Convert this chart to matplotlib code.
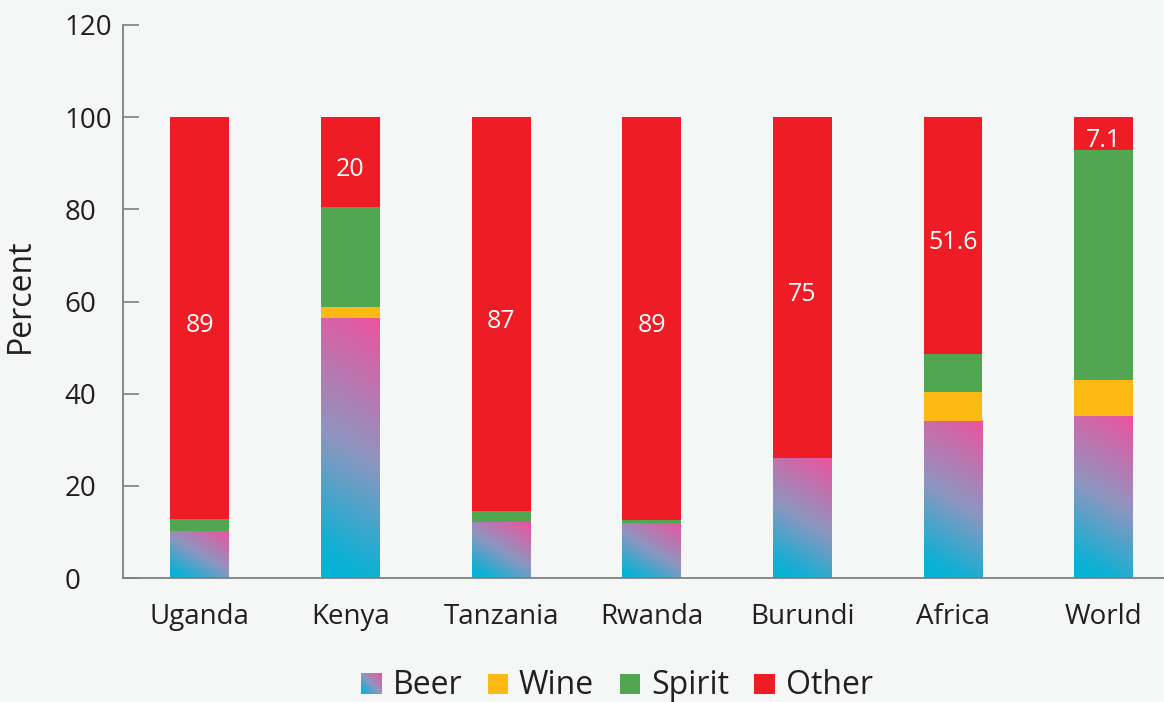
import numpy as np
import matplotlib
matplotlib.use("Agg")
import matplotlib.pyplot as plt
from matplotlib.colors import LinearSegmentedColormap
from matplotlib.patches import Rectangle
from matplotlib.legend_handler import HandlerBase

# data
countries = ["Uganda", "Kenya", "Tanzania", "Rwanda", "Burundi", "Africa", "World"]
beer = [10.2, 56.4, 12.1, 12.0, 26.0, 34.1, 35.1]
wine = [0.0, 2.4, 0.0, 0.0, 0.0, 6.3, 7.9]
spirit = [2.6, 21.7, 2.4, 0.5, 0.0, 8.2, 49.8]
other = [87.2, 19.5, 85.5, 87.5, 74.0, 51.4, 7.2]
other_labels = ["89", "20", "87", "89", "75", "51.6", "7.1"]

bg = "#f5f7f6"
txt = "#231f20"
c_wine = "#fdb913"
c_spirit = "#50a651"
c_other = "#ee1c25"
beer_cmap = LinearSegmentedColormap.from_list(
    "beer", [(0, "#00b5d6"), (0.12, "#10b0d3"), (0.5, "#8d96c0"), (1, "#ec539e")])

plt.rcParams['font.family'] = ['Open Sans', 'DejaVu Sans']

fig = plt.figure(figsize=(11.64, 7.02), dpi=100, facecolor=bg)
ax = fig.add_axes([0.1057, 0.1766, 0.8943, 0.7878])
ax.set_facecolor(bg)

x = np.arange(len(countries))
w = 0.39
ax.set_xlim(-0.51, 6.4)
ax.set_ylim(0, 120)

# px per data unit, to slant the beer gradient the same way on every bar
px_x = 0.8943 * 1164 / 6.91
px_y = 0.7878 * 702 / 120


def grad_bar(xc, h):
    if h <= 0:
        return
    n = 200
    xx, yy = np.meshgrid(np.linspace(0, w * px_x, n), np.linspace(0, h * px_y, n))
    k = 0.6
    t = (yy + k * xx) / (h * px_y + k * w * px_x)
    ax.imshow(t, cmap=beer_cmap, vmin=0, vmax=1, origin="lower", aspect="auto",
              extent=(xc - w / 2, xc + w / 2, 0, h), interpolation="bilinear", zorder=2)


for i in range(len(countries)):
    grad_bar(x[i], beer[i])

b1 = np.array(beer)
b2 = b1 + np.array(wine)
b3 = b2 + np.array(spirit)
ax.bar(x, wine, w, bottom=b1, color=c_wine, zorder=2)
ax.bar(x, spirit, w, bottom=b2, color=c_spirit, zorder=2)
ax.bar(x, other, w, bottom=b3, color=c_other, zorder=2)
ax.set_xlim(-0.51, 6.4)
ax.set_ylim(0, 120)

for i in range(len(countries)):
    ax.text(x[i], b3[i] + other[i] / 2 - 1.5, other_labels[i], color="white",
            ha="center", va="center", fontsize=18, zorder=3)

for s in ["top", "right"]:
    ax.spines[s].set_visible(False)
for s in ["left", "bottom"]:
    ax.spines[s].set_color("#808080")
    ax.spines[s].set_linewidth(1.3)

ax.set_yticks(np.arange(0, 121, 20))
ax.tick_params(axis="y", direction="in", length=11.5, width=1.2, color="#808080",
               labelsize=20, labelcolor=txt, pad=42)
for lab in ax.get_yticklabels():
    lab.set_horizontalalignment("left")
ax.set_xticks(x)
ax.set_xticklabels(countries)
ax.tick_params(axis="x", length=0, labelsize=20, labelcolor=txt, pad=18)
ax.set_ylabel("Percent", fontsize=23, color=txt)
ax.yaxis.set_label_coords(-0.083, 0.51)


class GradHandler(HandlerBase):
    def create_artists(self, legend, orig, xd, yd, width, height, fontsize, trans):
        arts = []
        n = 12
        s = height
        for i in range(n):
            for j in range(n):
                t = (i + j + 1) / (2 * n)
                r = Rectangle((xd + i * s / n, yd + j * s / n), s / n * 1.05, s / n * 1.05,
                              facecolor=beer_cmap(t), edgecolor="none", transform=trans)
                arts.append(r)
        return arts


class SquareHandler(HandlerBase):
    def create_artists(self, legend, orig, xd, yd, width, height, fontsize, trans):
        r = Rectangle((xd, yd), height, height, facecolor=orig.get_facecolor(),
                      edgecolor="none", transform=trans)
        return [r]


h_beer = Rectangle((0, 0), 1, 1)
h_wine = Rectangle((0, 0), 1, 1, facecolor=c_wine)
h_spirit = Rectangle((0, 0), 1, 1, facecolor=c_spirit)
h_other = Rectangle((0, 0), 1, 1, facecolor=c_other)
fig.legend([h_beer, h_wine, h_spirit, h_other], ["Beer", "Wine", "Spirit", "Other"],
           handler_map={h_beer: GradHandler(), h_wine: SquareHandler(),
                        h_spirit: SquareHandler(), h_other: SquareHandler()},
           loc="center", bbox_to_anchor=(0.530, 0.024), ncol=4, frameon=False,
           fontsize=23, labelcolor=txt, handlelength=0.63, handleheight=0.63,
           handletextpad=0.35, columnspacing=0.8, borderpad=0.2)

fig.savefig("out.png", dpi=100, facecolor=bg)
